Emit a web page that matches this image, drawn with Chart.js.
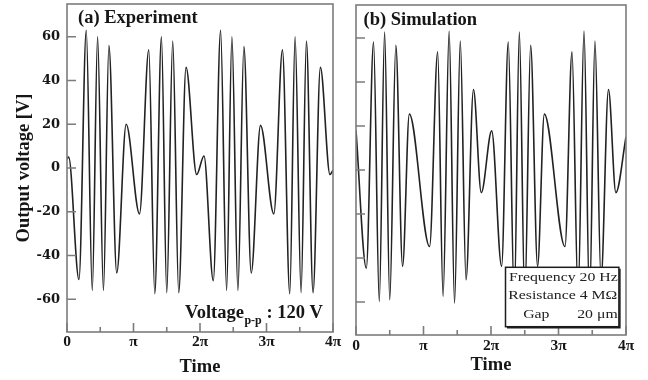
<!DOCTYPE html>
<html>
<head>
<meta charset="utf-8">
<script src="https://cdn.jsdelivr.net/npm/chart.js@4.4.0/dist/chart.umd.min.js"></script>
<style>
  html, body { margin: 0; padding: 0; background: #fff; }
  #wrap { position: relative; width: 648px; height: 380px; overflow: hidden; }
  canvas { position: absolute; top: 0; }
  #chart-a { left: 0; }
  #chart-b { left: 340px; }
</style>
</head>
<body>
<div id="wrap">
  <canvas id="chart-a" width="345" height="380"></canvas>
  <canvas id="chart-b" width="308" height="380"></canvas>
</div>
<script>
// time axis is in units of pi
const xTicks = [0, 0.5, 1, 1.5, 2, 2.5, 3, 3.5, 4];
const xTickLabels = ['0', '', 'π', '', '2π', '', '3π', '', '4π'];
const yTicks = [-60, -40, -20, 0, 20, 40, 60];

// (a) Experiment - turning points
const expTime = [0, 0.025, 0.18, 0.29, 0.38, 0.46, 0.548, 0.63, 0.748, 0.89,
                 1.09, 1.23, 1.32, 1.42, 1.50, 1.59, 1.68, 1.79, 1.95, 2.06,
                 2.20, 2.31, 2.40, 2.48, 2.57, 2.66, 2.77, 2.91, 3.11, 3.24,
                 3.35, 3.43, 3.52, 3.60, 3.70, 3.81, 3.955, 4.0];
const expVoltage = [4, 5, -51, 63, -56, 60, -56, 56, -48, 20,
                    -21, 54, -57.5, 60, -57, 58, -57, 46, -3, 5.5,
                    -51.5, 63, -56, 60, -56, 55.5, -48, 19.5, -21, 54,
                    -57.5, 60, -57, 58, -57, 46, -3, -1];

// (b) Simulation
const simTime = [0, 0.153, 0.26, 0.345, 0.424, 0.50, 0.59, 0.69, 0.79,
                 1.09, 1.21, 1.29, 1.38, 1.46, 1.545, 1.63, 1.74, 1.856, 2.01,
                 2.157, 2.256, 2.345, 2.42, 2.50, 2.587, 2.69, 2.79,
                 3.096, 3.20, 3.29, 3.378, 3.46, 3.54, 3.63, 3.74, 3.85, 4.0];
const simVoltage = [18, -44.6, 58.2, -59.7, 62.7, -59, 56.7, -43.8, 25.4,
                    -34.8, 53.7, -57.4, 63.2, -60.5, 58.6, -49.9, 36.6, -10.3, 17.8,
                    -43.8, 58.2, -59.7, 62.7, -59, 56.7, -43.8, 25.4,
                    -34.8, 53.7, -57.4, 63.2, -60.5, 58.6, -49.9, 36.6, -10.3, 15];

const serif = '"Liberation Serif", "Times New Roman", serif';
const yTickFont = { family: '"DejaVu Serif", serif', size: 13, weight: 'bold' };
const xTickFont = { family: serif, size: 15.5, weight: 'bold' };
const textColor = '#161616';
const frameColor = '#7c7c7c';

// box around the plot + inward tick marks
const framePlugin = {
    id: 'frame',
    afterDraw(chart) {
        const { ctx, chartArea: a, scales } = chart;
        ctx.save();
        ctx.strokeStyle = frameColor;
        ctx.lineWidth = 1.6;
        ctx.beginPath();
        scales.x.ticks.forEach(t => {
            const px = scales.x.getPixelForValue(t.value);
            const len = Number.isInteger(t.value) ? 9 : 5;
            ctx.moveTo(px, a.bottom);
            ctx.lineTo(px, a.bottom - len);
        });
        scales.y.ticks.forEach(t => {
            const py = scales.y.getPixelForValue(t.value);
            ctx.moveTo(a.left, py);
            ctx.lineTo(a.left + 9, py);
        });
        ctx.stroke();
        ctx.strokeRect(a.left, a.top, a.right - a.left, a.bottom - a.top);
        ctx.restore();
    }
};

function toPoints(xs, ys) {
    return xs.map((t, i) => ({ x: t, y: ys[i] }));
}

function makeChart(id, xs, ys, opts) {
    const ctx = document.getElementById(id).getContext('2d');
    return new Chart(ctx, {
        type: 'line',
        data: {
            datasets: [{
                data: toPoints(xs, ys),
                borderColor: '#222',
                borderWidth: 1.6,
                pointRadius: 0,
                cubicInterpolationMode: 'monotone',
                fill: false
            }]
        },
        options: {
            responsive: false,
            animation: false,
            devicePixelRatio: 1,
            layout: { padding: opts.padding },
            plugins: {
                legend: { display: false },
                tooltip: { enabled: false }
            },
            scales: {
                x: {
                    type: 'linear',
                    min: 0,
                    max: 4,
                    afterBuildTicks: s => { s.ticks = xTicks.map(v => ({ value: v })); },
                    afterFit: s => {
                        s.height = opts.xHeight;
                        s.paddingLeft = 0;
                        s.paddingRight = 0;
                    },
                    grid: { display: false, drawTicks: false },
                    border: { display: false },
                    ticks: {
                        autoSkip: false,
                        maxRotation: 0,
                        padding: opts.xTickPad,
                        color: textColor,
                        font: xTickFont,
                        callback: v => xTickLabels[xTicks.indexOf(v)]
                    },
                    title: {
                        display: true,
                        text: 'Time',
                        color: textColor,
                        font: { family: serif, size: 18.5, weight: 'bold' },
                        padding: { top: 0, bottom: opts.xTitlePad }
                    }
                },
                y: {
                    type: 'linear',
                    min: -75,
                    max: 75,
                    afterBuildTicks: s => { s.ticks = yTicks.map(v => ({ value: v })); },
                    afterFit: s => {
                        s.width = opts.yWidth;
                        // labels never reach the plot ends, so no extra room needed
                        s.paddingTop = 0;
                        s.paddingBottom = 0;
                    },
                    grid: { display: false, drawTicks: false },
                    border: { display: false },
                    ticks: {
                        padding: 7,
                        color: textColor,
                        font: yTickFont,
                        callback: v => opts.yLabels ? String(v) : ''
                    },
                    title: {
                        display: opts.yLabels,
                        text: 'Output voltage [V]',
                        color: textColor,
                        font: { family: serif, size: 18.5, weight: 'bold' },
                        padding: { top: 13, bottom: 0 }
                    }
                }
            }
        },
        plugins: [framePlugin, opts.notes]
    });
}

// panel (a)
makeChart('chart-a', expTime, expVoltage, {
    padding: { left: 0, right: 12, top: 4, bottom: 0 },
    xHeight: 48, yWidth: 67, xTickPad: 1, xTitlePad: 2, yLabels: true,
    notes: {
        id: 'notesA',
        afterDraw(chart) {
            const { ctx, chartArea: a } = chart;
            ctx.save();
            ctx.fillStyle = textColor;
            ctx.textBaseline = 'alphabetic';
            ctx.font = 'bold 18.5px ' + serif;
            ctx.fillText('(a) Experiment', a.left + 11, a.top + 18.5);
            // Voltage_p-p : 120 V
            let x = a.left + 118;
            const y = a.bottom - 13.7;
            ctx.fillText('Voltage', x, y);
            x += ctx.measureText('Voltage').width + 0.5;
            ctx.font = 'bold 12px ' + serif;
            ctx.fillText('p-p', x, y + 6);
            x += ctx.measureText('p-p').width;
            ctx.font = 'bold 18.5px ' + serif;
            ctx.fillText(' : 120 V', x, y);
            ctx.restore();
        }
    }
});

// panel (b)
makeChart('chart-b', simTime, simVoltage, {
    padding: { left: 0, right: 22, top: 5, bottom: 0 },
    xHeight: 45, yWidth: 16, xTickPad: 2, xTitlePad: 4, yLabels: false,
    notes: {
        id: 'notesB',
        afterDraw(chart) {
            const { ctx, chartArea: a } = chart;
            ctx.save();
            ctx.fillStyle = textColor;
            ctx.textBaseline = 'alphabetic';
            ctx.font = 'bold 18.5px ' + serif;
            ctx.fillText('(b) Simulation', a.left + 7.5, a.top + 19.5);

            // parameter box
            const bx = a.right - 120.5, by = a.bottom - 67.7, bw = 113.4, bh = 59.4;
            ctx.fillStyle = '#fff';
            ctx.fillRect(bx, by, bw, bh);
            ctx.strokeStyle = '#1c1c1c';
            ctx.lineWidth = 1.5;
            ctx.strokeRect(bx, by, bw, bh);
            ctx.beginPath();
            ctx.moveTo(bx + 1.5, by + bh + 1);
            ctx.lineTo(bx + bw + 1, by + bh + 1);
            ctx.lineTo(bx + bw + 1, by + 1.5);
            ctx.stroke();

            ctx.fillStyle = '#222';
            ctx.font = '13.5px ' + serif;
            const sx = 1.17;
            ctx.scale(sx, 1);
            ctx.fillText('Frequency 20 Hz', (bx + 3.4) / sx, by + 13.4);
            ctx.fillText('Resistance 4 MΩ', (bx + 2.7) / sx, by + 32);
            ctx.fillText('Gap', (bx + 17.7) / sx, by + 51);
            ctx.fillText('20 μm', (bx + 71.7) / sx, by + 51);
            ctx.restore();
        }
    }
});
</script>
</body>
</html>
